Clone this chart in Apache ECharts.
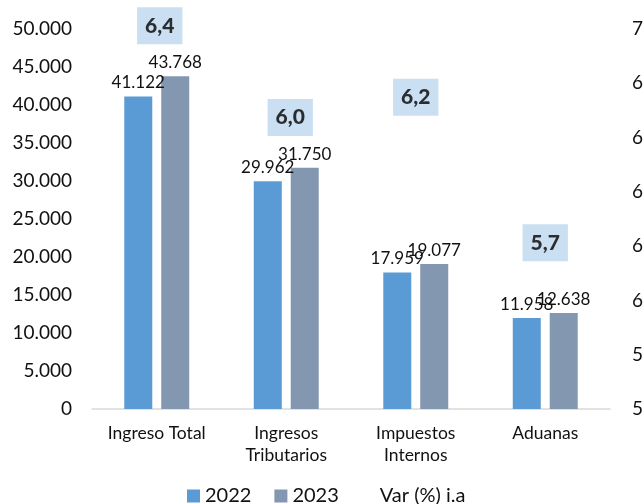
<!DOCTYPE html>
<html>
<head>
<meta charset="utf-8">
<script src="https://cdn.jsdelivr.net/npm/echarts@6/dist/echarts.min.js"></script>
<style>
html,body{margin:0;padding:0;background:#fff;}
#chart{width:644px;height:504px;}
</style>
</head>
<body>
<div id="chart"></div>
<script>
const categories = ['Ingreso Total', 'Ingresos\nTributarios', 'Impuestos\nInternos', 'Aduanas'];
const values2022 = [41122, 29962, 17959, 11958];
const values2023 = [43768, 31750, 19077, 12638];
const varPct = [6.4, 6.0, 6.2, 5.7];
const leftTicks = { min: 0, max: 50000, interval: 5000 };
const rightTicks = { min: 5.6, max: 7.0, interval: 0.2 };

// label placement (styling only): offsets of the variation boxes
const varLabelOffsets = [[3, -166], [4, -183], [0, -149], [0, -139]];

const FONT = 'Lato';
const fmtThousands = v => String(Math.round(v)).replace(/\B(?=(\d{3})+(?!\d))/g, '.');
const fmtComma = v => Number(v).toFixed(1).replace('.', ',');

const chart = echarts.init(document.getElementById('chart'), null, { renderer: 'canvas' });
chart.setOption({
  animation: false,
  backgroundColor: '#ffffff',
  textStyle: { fontFamily: FONT },
  grid: { left: 92, right: 34, top: 29, bottom: 95, containLabel: false, outerBoundsMode: 'none' },
  legend: {
    left: 182, top: 481,
    itemWidth: 13, itemHeight: 13, itemGap: 23,
    textStyle: { fontFamily: FONT, fontSize: 20, color: '#111' },
    data: [
      { name: '2022', icon: 'rect' },
      { name: '2023', icon: 'rect' },
      { name: 'Var (%) i.a', icon: 'rect', itemStyle: { color: 'rgba(0,0,0,0)' } }
    ]
  },
  xAxis: {
    type: 'category',
    data: categories,
    axisLine: { show: true, lineStyle: { color: '#D9D9D9', width: 1.5 } },
    axisTick: { show: false },
    axisLabel: { fontFamily: FONT, fontSize: 17.5, color: '#111', margin: 13, lineHeight: 22, interval: 0 }
  },
  yAxis: [
    {
      type: 'value', min: leftTicks.min, max: leftTicks.max, interval: leftTicks.interval,
      axisLine: { show: false }, axisTick: { show: false }, splitLine: { show: false },
      axisLabel: { fontFamily: FONT, fontSize: 19, color: '#111', margin: 20, formatter: fmtThousands }
    },
    {
      type: 'value', min: rightTicks.min, max: rightTicks.max, interval: rightTicks.interval,
      position: 'right',
      axisLine: { show: false }, axisTick: { show: false }, splitLine: { show: false },
      axisLabel: { fontFamily: FONT, fontSize: 19, color: '#111', margin: 22, formatter: fmtComma }
    }
  ],
  series: [
    {
      name: '2022', type: 'bar', data: values2022, yAxisIndex: 0,
      barWidth: 28, barGap: '32%',
      itemStyle: { color: '#5B9BD5' },
      label: { show: true, position: 'top', distance: 5, fontFamily: FONT, fontSize: 17, color: '#111', formatter: p => fmtThousands(p.value) }
    },
    {
      name: '2023', type: 'bar', data: values2023, yAxisIndex: 0,
      barWidth: 28, barGap: '32%',
      itemStyle: { color: '#8497B0' },
      label: { show: true, position: 'top', distance: 5, fontFamily: FONT, fontSize: 17, color: '#111', formatter: p => fmtThousands(p.value) }
    },
    {
      name: 'Var (%) i.a', type: 'scatter', yAxisIndex: 1,
      symbolSize: 1,
      itemStyle: { color: 'rgba(0,0,0,0)' },
      data: varPct.map((v, i) => ({
        value: v,
        label: { offset: varLabelOffsets[i] }
      })),
      label: {
        show: true, position: 'inside',
        fontFamily: FONT, fontSize: 21, fontWeight: 900, color: '#000',
        backgroundColor: '#BDD7EE', padding: [8, 8, 8, 8],
        formatter: p => fmtComma(p.value)
      },
      z: 5
    }
  ]
});
</script>
</body>
</html>
